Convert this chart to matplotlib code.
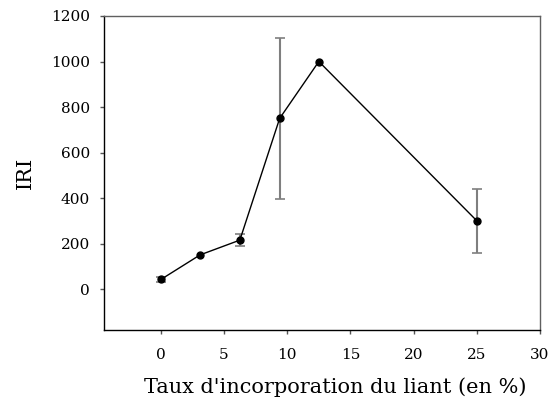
import numpy as np
import matplotlib.pyplot as plt

# DATA -------------------
taux = [0, 3.1, 6.25, 9.4, 12.5, 25]
iri = [42, 150, 215, 750, 1000, 300]
# no error bar measured on the 3.1 and 12.5 points
err = [12, np.nan, 25, 355, np.nan, 140]

x_ticks = [0, 5, 10, 15, 20, 25, 30]
y_ticks = [0, 200, 400, 600, 800, 1000, 1200]

# PLOTTING -------------------
plt.rcParams['font.family'] = ['DejaVu Serif']

fig = plt.figure(figsize=(5.49, 4.05), dpi=100)
ax = fig.add_axes([104 / 549, 1 - 330 / 405, (540 - 104) / 549, (330 - 16) / 405])

ax.errorbar(taux, iri, yerr=err, fmt='none', ecolor='#7f7f7f', elinewidth=1.5,
            capsize=3.4, capthick=1.2, zorder=2)
ax.plot(taux, iri, color='black', linewidth=1.0, marker='o', markersize=5, zorder=3)

ax.set_xlim(-4.5, 30)
ax.set_ylim(-180, 1200)
ax.set_xticks(x_ticks)
ax.set_yticks(y_ticks)
ax.tick_params(direction='out', length=3, width=1, labelsize=11, color='#555555')
ax.tick_params(axis='y', pad=7)
ax.tick_params(axis='x', pad=10)

for s in ['left', 'bottom']:
    ax.spines[s].set_color('black')
    ax.spines[s].set_linewidth(1.0)
for s in ['top', 'right']:
    ax.spines[s].set_color('#606060')
    ax.spines[s].set_linewidth(1.0)

ax.set_xlabel("Taux d'incorporation du liant (en %)", fontsize=15)
ax.xaxis.set_label_coords(0.53, -0.15)
ax.set_ylabel("IRI", fontsize=15, labelpad=12)

fig.savefig('out.png', dpi=100)
